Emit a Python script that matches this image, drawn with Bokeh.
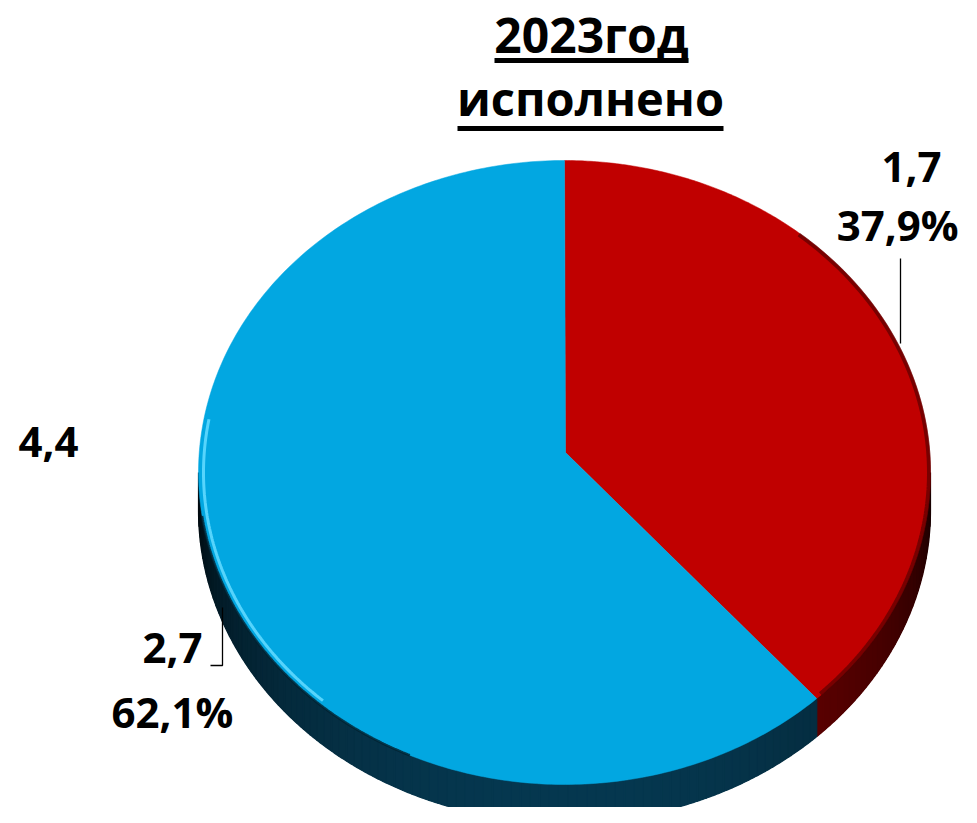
import numpy as np
from bokeh.plotting import figure
from bokeh.models import Range1d
from bokeh.core.properties import value
from bokeh.embed import file_html
from bokeh.resources import INLINE

# ---- data ----
title_lines = ["2023год", "исполнено"]
slice_values = [1.7, 2.7]          # red, blue (clockwise from 12 o'clock)
slice_shares = [37.9, 62.1]        # percent
total_value = 4.4
value_labels = ["1,7", "2,7"]
share_labels = ["37,9%", "62,1%"]
total_label = "4,4"
slice_colors = ["#C00000", "#02A7E1"]
side_colors = [(110, 0, 0), (6, 56, 80)]

# ---- canvas (data units == screen pixels) ----
W, H = 961, 807
p = figure(width=W, height=H, x_range=Range1d(0, W), y_range=Range1d(H, 0),
           output_backend="svg", toolbar_location=None, min_border=0,
           x_axis_location=None, y_axis_location=None)
p.grid.visible = False
p.outline_line_color = None
p.background_fill_color = "white"

cx, cy, rx, ry, depth = 564.0, 472.0, 366.0, 312.0, 38.0
vx, vy = 565.0, 452.0


def arc(t0, t1, n=200, drx=0.0, dry=0.0, dy=0.0):
    t = np.radians(np.linspace(t0, t1, n))
    return cx + (rx - drx) * np.sin(t), cy - (ry - dry) * np.cos(t) + dy


shares = np.array(slice_shares, dtype=float)
bounds = np.concatenate([[0.0], np.cumsum(shares) / shares.sum() * 360.0])

# side (visible front part: 90..270 deg clockwise from top)
base_xs, base_ys, base_cols = [], [], []
side_xs, side_ys, side_cols = [], [], []
for i in range(len(shares)):
    a0, a1 = max(bounds[i], 90.0), min(bounds[i + 1], 270.0)
    if a1 <= a0:
        continue
    xt, yt = arc(a0, a1, 200)
    xb, yb = arc(a1, a0, 200, dy=depth)
    r, g, b = side_colors[i]
    base_xs.append(list(xt) + list(xb))
    base_ys.append(list(yt) + list(yb))
    base_cols.append("#%02x%02x%02x" % (int(r * 0.5), int(g * 0.5), int(b * 0.5)))
    edges = np.linspace(a0, a1, int((a1 - a0) / 1.5) + 2)
    for e0, e1 in zip(edges[:-1], edges[1:]):
        xt, yt = arc(e0, e1, 6)
        xb, yb = arc(e1, e0, 6, dy=depth)
        side_xs.append(list(xt) + list(xb))
        side_ys.append(list(yt) + list(yb))
        mid = np.radians((e0 + e1) / 2)
        f = 0.15 + 0.85 * max(0.0, -np.cos(mid)) ** 0.8
        side_cols.append("#%02x%02x%02x" % (int(r * f), int(g * f), int(b * f)))
p.patches(base_xs, base_ys, fill_color=base_cols, line_color=None)
p.patches(side_xs, side_ys, fill_color=side_cols, line_color=side_cols, line_width=1.2)

# faces
for i in range(len(shares)):
    xa, ya = arc(bounds[i], bounds[i + 1], 300)
    p.patch([vx] + list(xa), [vy] + list(ya), fill_color=slice_colors[i],
            line_color=slice_colors[i], line_width=0.5)

# rim shading / highlight
xr, yr = arc(bounds[0] + 40, bounds[1] - 1, 150, drx=1.5, dry=1.5)
p.line(xr, yr, line_color="#300000", line_width=4, line_alpha=0.5)
xh, yh = arc(222, 280, 120, drx=5, dry=5)
p.line(xh, yh, line_color="#5fd9ff", line_width=3, line_alpha=0.9)
xe, ye = arc(205, 262, 150)
p.line(xe, ye, line_color="#03202e", line_width=2.5, line_alpha=0.8)

font = value("Open Sans")

# title
p.text(x=[591], y=[34], text=[title_lines[0]], text_font=font, text_font_style="bold",
       text_font_size="48px", text_align="center", text_baseline="middle", text_color="black")
p.text(x=[590], y=[97], text=[title_lines[1]], text_font=font, text_font_style="bold",
       text_font_size="47px", text_align="center", text_baseline="middle", text_color="black")
p.segment(x0=[494, 457], y0=[60, 128], x1=[688, 723], y1=[60, 128], line_color="black", line_width=5)

# data labels
lab = dict(text_font=font, text_font_style="bold", text_font_size="42px",
           text_baseline="middle", text_color="black")
off = 16
p.text(x=[911], y=[182 - off], text=[value_labels[0]], text_align="center", **lab)
p.text(x=[958], y=[240 - off], text=[share_labels[0]], text_align="right", **lab)
p.text(x=[202], y=[663 - off], text=[value_labels[1]], text_align="right", **lab)
p.text(x=[172], y=[727 - off], text=[share_labels[1]], text_align="center", **lab)
p.text(x=[18], y=[457 - off], text=[total_label], text_align="left", **lab)

# leader lines
p.line([900, 900], [258, 343], line_color="black", line_width=1.3)
p.line([222, 222, 210], [607, 665, 665], line_color="black", line_width=1.3)

open("out.html", "w").write(file_html(p, INLINE))
